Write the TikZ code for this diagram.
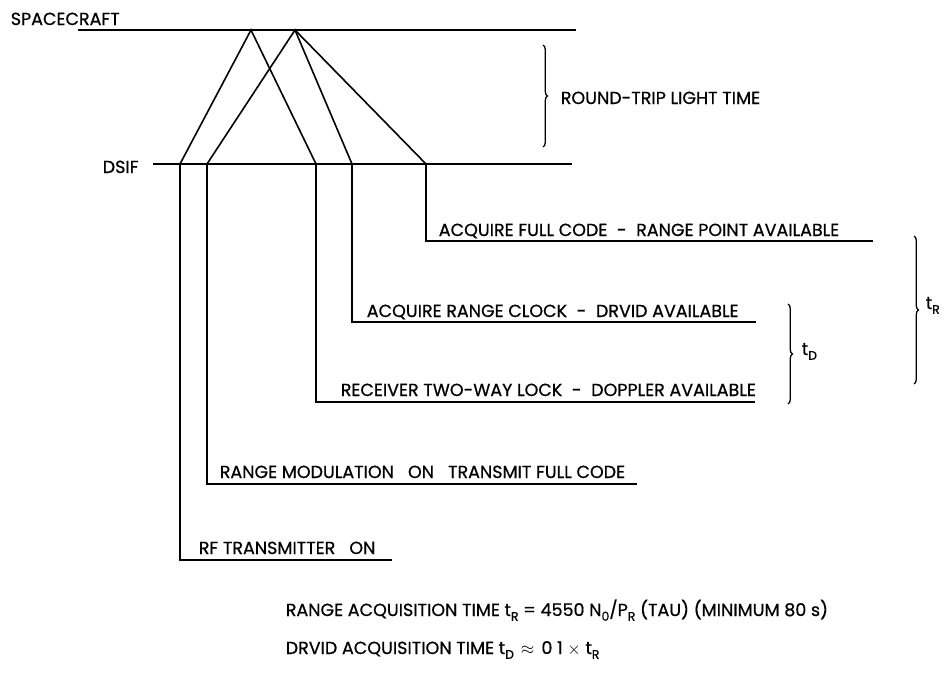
\documentclass[tikz,border=0pt]{standalone}
\usepackage{fontspec}
\setmainfont{Poppins}[FakeBold=0.6]
\usetikzlibrary{decorations.pathreplacing}
\newcommand\sbs[1]{\raisebox{-0.5ex}{\fontsize{12.5}{13}\selectfont #1}}
\begin{document}
\begin{tikzpicture}[x=1pt,y=-1pt, line width=1.6pt,
  lbl/.style={anchor=base west, inner sep=0pt, font=\fontsize{17.5}{20}\selectfont},
  bracestyle/.style={decorate, decoration={brace, amplitude=4.5pt}, line width=1.3pt}]
\fill[white] (0,0) rectangle (944,675);
\useasboundingbox (0,0) rectangle (944,675);

% base lines
\node[lbl] (sc) at (10,25) {SPACECRAFT};
\coordinate (scL) at (78,30); \coordinate (scR) at (576,30);
\draw (scL) -- (scR);
\node[lbl] (dsif) at (102,173) {DSIF};
\coordinate (dL) at (153,164); \coordinate (dR) at (572,164);
\draw (dL) -- (dR);

% signal paths
\coordinate (a1) at (251,30); \coordinate (a2) at (295,30);
\coordinate (p1) at (180,164); \coordinate (p2) at (207,164);
\coordinate (p3) at (316,164); \coordinate (p4) at (352,164);
\coordinate (p5) at (426,164);
\draw (p1) -- (a1) -- (p3);
\draw (p2) -- (a2) -- (p4);
\draw (a2) -- (p5);

% event lines
\coordinate (e1) at (392,560);
\coordinate (e2) at (637,484);
\coordinate (e3) at (755,402);
\coordinate (e4) at (756,322);
\coordinate (e5) at (873,241);
\draw (p1) |- (e1);
\draw (p2) |- (e2);
\draw (p3) |- (e3);
\draw (p4) |- (e4);
\draw (p5) |- (e5);

\node[lbl] (l1) at (198,554) {RF TRANSMITTER\hspace{0.8em}ON};
\node[lbl] (l2) at (219,478) {RANGE MODULATION\hspace{0.8em}ON\hspace{0.8em}TRANSMIT FULL CODE};
\node[lbl] (l3) at (340,396) {RECEIVER TWO-WAY LOCK\hspace{0.55em}-\hspace{0.55em}DOPPLER AVAILABLE};
\node[lbl] (l4) at (366,317) {ACQUIRE RANGE CLOCK\hspace{0.55em}-\hspace{0.55em}DRVID AVAILABLE};
\node[lbl] (l5) at (438,236) {ACQUIRE FULL CODE\hspace{0.55em}-\hspace{0.55em}RANGE POINT AVAILABLE};

% braces
\coordinate (b1t) at (543,45); \coordinate (b1b) at (543,147);
\draw[bracestyle] (b1t) -- (b1b);
\node[lbl] (rt) at (560,104) {ROUND-TRIP LIGHT TIME};
\coordinate (b2t) at (788,304); \coordinate (b2b) at (788,404);
\draw[bracestyle] (b2t) -- (b2b);
\node[lbl] (td) at (801,355) {t\sbs{D}};
\coordinate (b3t) at (914,236); \coordinate (b3b) at (914,384);
\draw[bracestyle] (b3t) -- (b3b);
\node[lbl] (tr) at (925,309) {t\sbs{R}};

% formulas
\node[lbl] (f1) at (285,616) {RANGE ACQUISITION TIME t\sbs{R} = 4550 N\sbs{0}/P\sbs{R} (TAU) (MINIMUM 80 s)};
\node[lbl] (f2) at (285,654) {DRVID ACQUISITION TIME t\sbs{D}\hspace{0.4em}$\approx$\hspace{0.4em}0 1 $\times$ t\sbs{R}};
\end{tikzpicture}
\end{document}
